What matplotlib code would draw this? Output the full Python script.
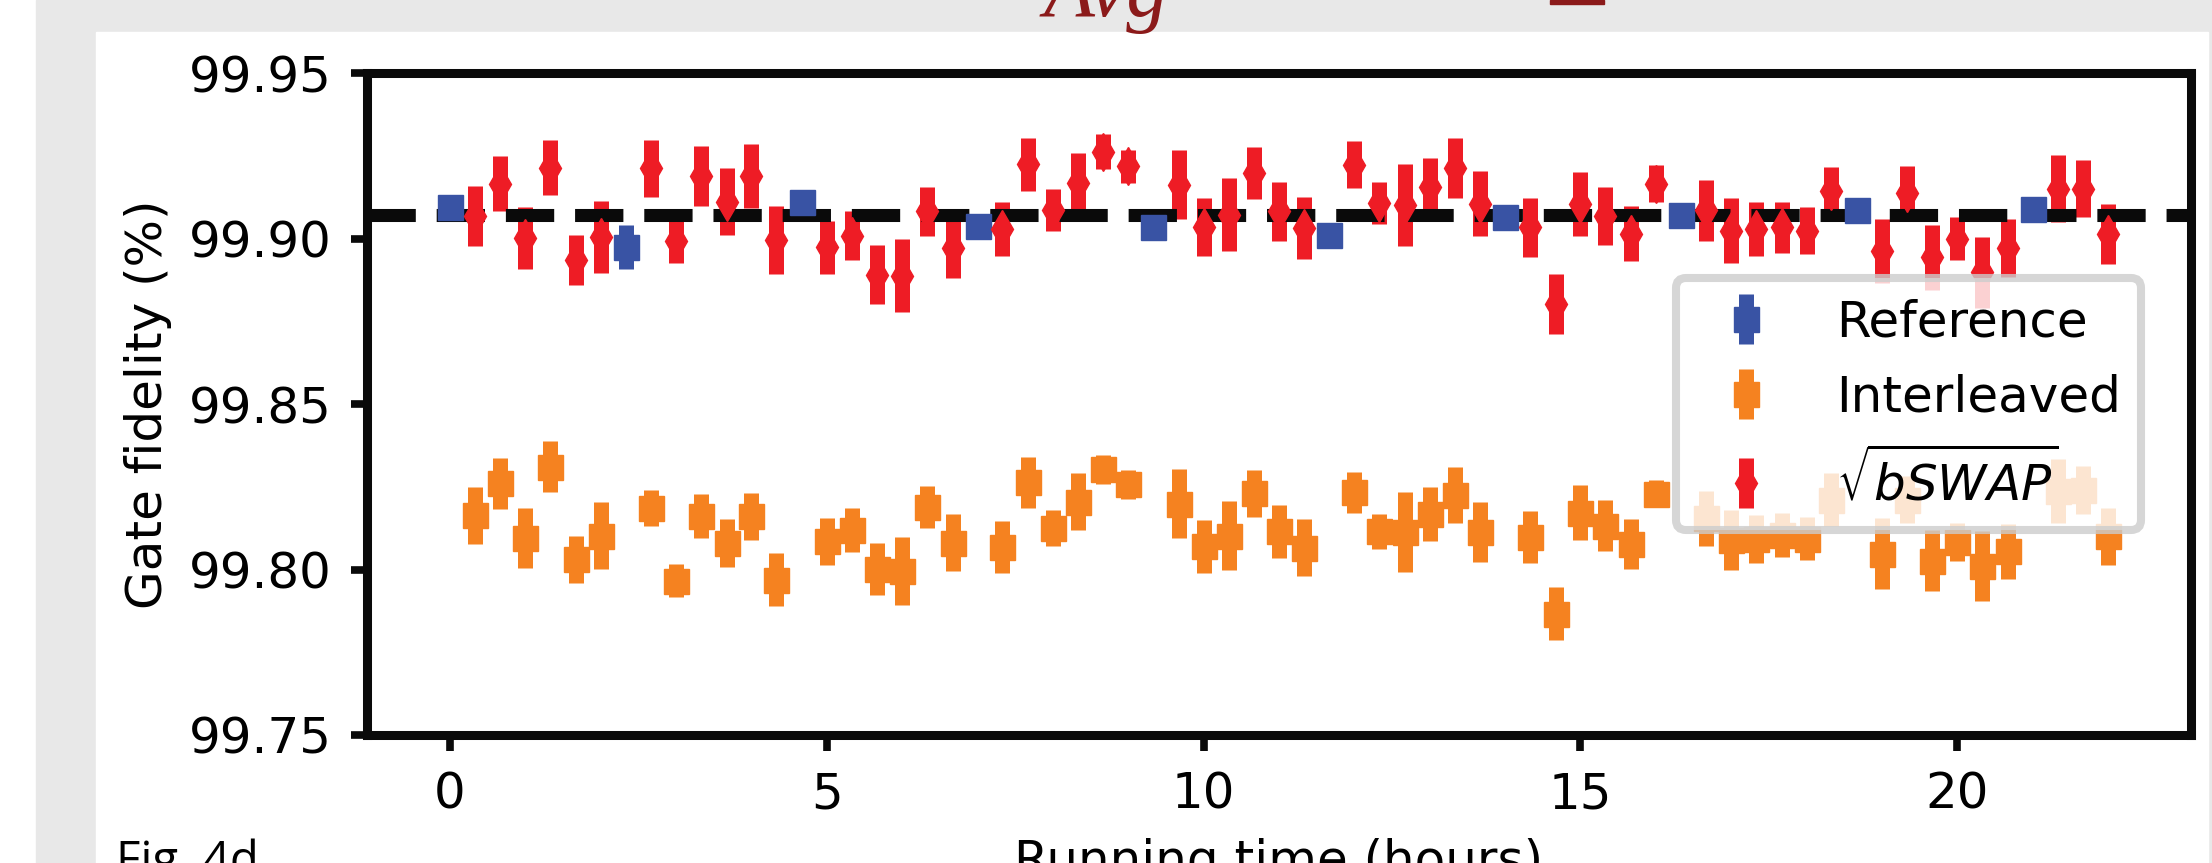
import matplotlib
matplotlib.use("Agg")
import matplotlib.pyplot as plt
from matplotlib.patches import Rectangle

# running time (hours) of the interleaved / sqrt(bSWAP) runs
run_hours = [0.33, 0.67, 1.0, 1.33, 1.67, 2.0,
             2.67, 3.0, 3.33, 3.67, 4.0, 4.33,
             5.0, 5.33, 5.67, 6.0, 6.33, 6.67,
             7.33, 7.67, 8.0, 8.33, 8.67, 9.0,
             9.67, 10.0, 10.33, 10.67, 11.0, 11.33,
             12.0, 12.33, 12.67, 13.0, 13.33, 13.67,
             14.33, 14.67, 15.0, 15.33, 15.67, 16.0,
             16.67, 17.0, 17.33, 17.67, 18.0, 18.33,
             19.0, 19.33, 19.67, 20.0, 20.33, 20.67,
             21.33, 21.67, 22.0]

bswap_fid = [99.9069, 99.9167, 99.9002, 99.9215, 99.8936, 99.9005,
             99.9214, 99.8995, 99.9190, 99.9113, 99.9190, 99.8997,
             99.8975, 99.9010, 99.8892, 99.8889, 99.9083, 99.8973,
             99.9030, 99.9225, 99.9088, 99.9169, 99.9263, 99.9219,
             99.9164, 99.9035, 99.9073, 99.9199, 99.9083, 99.9032,
             99.9224, 99.9108, 99.9103, 99.9157, 99.9215, 99.9106,
             99.9035, 99.8803, 99.9106, 99.9069, 99.9015, 99.9167,
             99.9086, 99.9025, 99.9030, 99.9035, 99.9025, 99.9144,
             99.8963, 99.9138, 99.8944, 99.9000, 99.8899, 99.8972,
             99.9152, 99.9152, 99.9015]
bswap_err = [0.0090, 0.0083, 0.0094, 0.0083, 0.0076, 0.0109,
             0.0086, 0.0068, 0.0091, 0.0100, 0.0097, 0.0102,
             0.0080, 0.0075, 0.0088, 0.0110, 0.0075, 0.0090,
             0.0083, 0.0081, 0.0064, 0.0090, 0.0053, 0.0050,
             0.0105, 0.0088, 0.0110, 0.0079, 0.0088, 0.0094,
             0.0071, 0.0064, 0.0124, 0.0088, 0.0090, 0.0098,
             0.0090, 0.0091, 0.0096, 0.0088, 0.0083, 0.0056,
             0.0091, 0.0098, 0.0081, 0.0077, 0.0072, 0.0073,
             0.0096, 0.0083, 0.0098, 0.0065, 0.0108, 0.0088,
             0.0102, 0.0085, 0.0091]

inter_fid = [99.8164, 99.8261, 99.8096, 99.8311, 99.8031, 99.8103,
             99.8187, 99.7967, 99.8162, 99.8081, 99.8162, 99.7970,
             99.8086, 99.8119, 99.8002, 99.7997, 99.8190, 99.8081,
             99.8069, 99.8264, 99.8126, 99.8205, 99.8303, 99.8258,
             99.8199, 99.8071, 99.8103, 99.8231, 99.8116, 99.8066,
             99.8234, 99.8116, 99.8114, 99.8169, 99.8226, 99.8114,
             99.8098, 99.7866, 99.8172, 99.8132, 99.8078, 99.8230,
             99.8155, 99.8089, 99.8093, 99.8105, 99.8093, 99.8212,
             99.8048, 99.8212, 99.8027, 99.8084, 99.8012, 99.8055,
             99.8238, 99.8240, 99.8101]
inter_err = [0.0087, 0.0077, 0.0091, 0.0077, 0.0070, 0.0102,
             0.0055, 0.0050, 0.0066, 0.0073, 0.0071, 0.0080,
             0.0071, 0.0066, 0.0080, 0.0103, 0.0064, 0.0086,
             0.0079, 0.0078, 0.0055, 0.0086, 0.0044, 0.0043,
             0.0104, 0.0080, 0.0105, 0.0071, 0.0080, 0.0086,
             0.0062, 0.0053, 0.0120, 0.0082, 0.0084, 0.0091,
             0.0078, 0.0080, 0.0083, 0.0077, 0.0075, 0.0040,
             0.0083, 0.0090, 0.0073, 0.0067, 0.0065, 0.0081,
             0.0108, 0.0070, 0.0093, 0.0057, 0.0106, 0.0083,
             0.0096, 0.0072, 0.0086]

ref_hours = [0.0, 2.33, 4.67, 7.0, 9.33, 11.67, 14.0, 16.33, 18.67, 21.0]
ref_fid = [99.9096, 99.8975, 99.9112, 99.9040, 99.9037,
           99.9012, 99.9066, 99.9073, 99.9086, 99.9091]
ref_err = [0.0020, 0.0066, 0.0020, 0.0020, 0.0020,
           0.0020, 0.0020, 0.0020, 0.0020, 0.0020]

mean_fid = 99.9073

BLUE = "#3953a4"
ORANGE = "#f58220"
RED = "#ee1c25"
DARKRED = "#8b1a1a"

W, H = 2212, 863
fig = plt.figure(figsize=(W / 100, H / 100), dpi=100)
fig.patch.set_facecolor("white")

# slide background behind the chart
fig.patches.append(Rectangle((36 / W, 0), 1 - 36 / W, 1, transform=fig.transFigure,
                             color="#e8e8e8", zorder=-3))
fig.patches.append(Rectangle((96 / W, 0), (2208 - 96) / W, (H - 32) / H,
                             transform=fig.transFigure, color="white", zorder=-2))
fig.patches.append(Rectangle((1550 / W, 1 - 4 / H), 54 / W, 4 / H,
                             transform=fig.transFigure, color=DARKRED, zorder=-1))
# slide text cut by the screenshot edges
fig.text(1044 / W, 1 - 16 / H, "Avg", color=DARKRED, fontsize=60, style="italic",
         family="Liberation Serif", va="baseline")
fig.text(116 / W, -12 / H, "Fig. 4d", fontsize=34, family="Open Sans", va="baseline")

ax = fig.add_axes([367 / W, (H - 735) / H, (2191 - 367) / W, (735 - 73.5) / H])

fs = 36
eb_kw = dict(capsize=0, elinewidth=10.8, linestyle="none")

ref = ax.errorbar(ref_hours, ref_fid, yerr=ref_err, fmt="s", color=BLUE, ms=18,
                  label="Reference", **eb_kw)
inter = ax.errorbar(run_hours, inter_fid, yerr=inter_err, fmt="s", color=ORANGE, ms=18,
                    label="Interleaved", **eb_kw)
bsw = ax.errorbar(run_hours, bswap_fid, yerr=bswap_err, fmt="d", color=RED, ms=19,
                  label=r"$\sqrt{bSWAP}$", **eb_kw)

# bars under the dashed line, markers above it
for cont in (ref, inter, bsw):
    cont[0].set_zorder(4)
    for c in cont[2]:
        c.set_zorder(2)

ax.axhline(mean_fid, color="#0a0a0a", lw=9.4, ls="--", zorder=3)

ax.set_ylim(99.75, 99.95)
ax.set_xlim(-1.1, 23.1)
ax.set_yticks([99.75, 99.80, 99.85, 99.90, 99.95])
ax.set_xticks([0, 5, 10, 15, 20])

for s in ax.spines.values():
    s.set_linewidth(6.5)
    s.set_color("#0a0a0a")
ax.tick_params(labelsize=fs, length=11.5, width=5.5, pad=14, color="#0a0a0a")

ax.set_ylabel("Gate fidelity (%)", fontsize=fs, labelpad=12)
ax.set_xlabel("Running time (hours)", fontsize=fs, labelpad=14)

leg = ax.legend(loc="center right", fontsize=fs, borderaxespad=1.0, labelspacing=0.55)
leg.get_frame().set_linewidth(5.8)
leg.set_zorder(10)

fig.savefig("out.png", dpi=100)
